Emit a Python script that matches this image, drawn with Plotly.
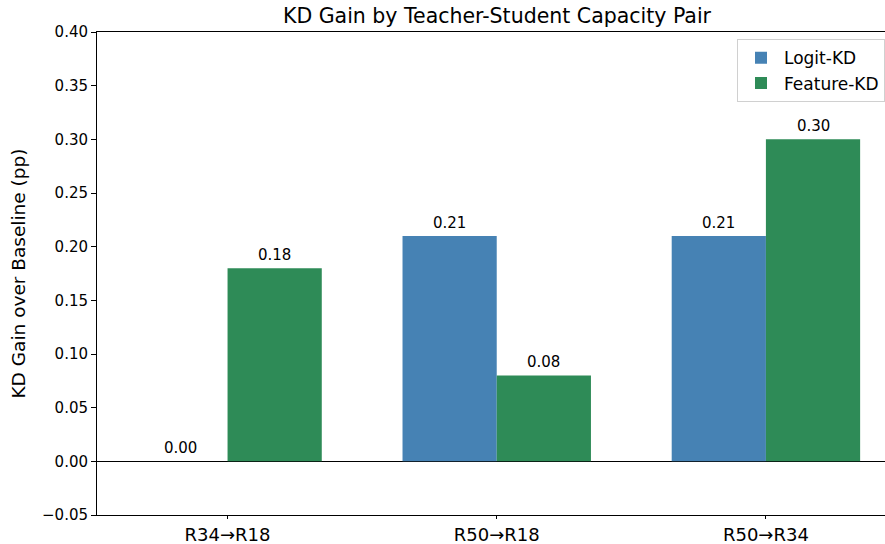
import plotly.graph_objects as go

categories = ["R34→R18", "R50→R18", "R50→R34"]
logit_kd = [0.00, 0.21, 0.21]
feature_kd = [0.18, 0.08, 0.30]
y_ticks = [-0.05, 0.00, 0.05, 0.10, 0.15, 0.20, 0.25, 0.30, 0.35, 0.40]

BLUE = "#4682B4"
GREEN = "#2E8B57"
FONT = "DejaVu Sans"

fig = go.Figure()
fig.add_trace(go.Bar(x=categories, y=logit_kd, name="Logit-KD", marker_color=BLUE,
                     marker_line_width=0))
fig.add_trace(go.Bar(x=categories, y=feature_kd, name="Feature-KD", marker_color=GREEN,
                     marker_line_width=0))

# value labels
for i, c in enumerate(categories):
    for val, off in ((logit_kd[i], -0.175), (feature_kd[i], 0.175)):
        fig.add_annotation(x=i + off, y=val, xref="x", yref="y", text=f"{val:.2f}",
                           showarrow=False, yanchor="bottom", yshift=2,
                           font=dict(family=FONT, size=15, color="black"))

fig.update_layout(
    width=885, height=544,
    margin=dict(l=97, r=0, t=32, b=29),
    paper_bgcolor="white", plot_bgcolor="white",
    barmode="group", bargap=0.3, bargroupgap=0,
    title=dict(text="KD Gain by Teacher-Student Capacity Pair", x=497 / 885,
               xanchor="center", y=1 - 16 / 544, yanchor="middle",
               font=dict(family=FONT, size=20.5, color="black")),
    font=dict(family=FONT, color="black"),
    legend=dict(x=1.0, xanchor="right", y=0.985, yanchor="top",
                bgcolor="white", bordercolor="#d0d0d0", borderwidth=1,
                font=dict(family=FONT, size=17, color="black"),
                itemwidth=36, tracegroupgap=0),
    showlegend=True,
)
fig.update_xaxes(
    type="category", range=[-0.485, 2.4424], automargin=False,
    showline=True, linecolor="black", linewidth=1, mirror=True,
    ticks="outside", ticklen=3, tickcolor="black",
    tickfont=dict(family=FONT, size=18, color="black"),
    showgrid=False, zeroline=False,
)
fig.update_yaxes(
    range=[-0.05, 0.40], tickvals=y_ticks, ticktext=[f"{v:.2f}".replace("-", "−") for v in y_ticks],
    showline=True, linecolor="black", linewidth=1, automargin=False,
    ticks="outside", ticklen=5, tickcolor="black",
    tickfont=dict(family=FONT, size=15, color="black"),
    showgrid=False, zeroline=True, zerolinecolor="black", zerolinewidth=1,
    title=dict(text="KD Gain over Baseline (pp)", font=dict(family=FONT, size=18.5, color="black"),
               standoff=11),
)

fig.write_html("out.html", config={"displayModeBar": False},
               post_script="document.body.style.margin='0';document.body.style.overflow='hidden';")
